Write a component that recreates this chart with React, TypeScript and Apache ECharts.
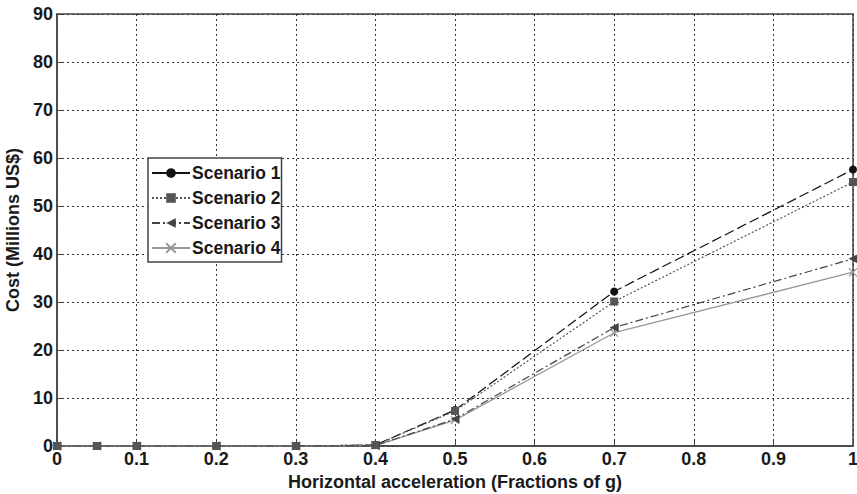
import React, { useEffect, useRef } from "react";
import * as echarts from "echarts";

const xValues = [0, 0.05, 0.1, 0.2, 0.3, 0.4, 0.5, 0.7, 1];
const scenario1 = [0, 0, 0, 0, 0, 0.2, 7.5, 32.2, 57.6];
const scenario2 = [0, 0, 0, 0, 0, 0.2, 7.3, 30.1, 55.0];
const scenario3 = [0, 0, 0, 0, 0, 0.1, 5.6, 24.7, 39.0];
const scenario4 = [0, 0, 0, 0, 0, 0.1, 5.4, 23.6, 36.2];
const seriesNames = ["Scenario 1", "Scenario 2", "Scenario 3", "Scenario 4"];

const FONT = "Liberation Sans, Arial, sans-serif";

const pair = (ys: number[]) => xValues.map((x, i) => [x, ys[i]]);

export default function App() {
  const ref = useRef<HTMLDivElement>(null);
  useEffect(() => {
    if (!ref.current) return;
    const chart = echarts.init(ref.current, undefined, { renderer: "svg" });
    const axisLabel = { color: "#1a1a1a", fontFamily: FONT, fontSize: 18, fontWeight: "bold" as const };
    chart.setOption({
      animation: false,
      backgroundColor: "#fff",
      grid: {
        left: 57,
        top: 14,
        right: 4,
        bottom: 48,
        outerBoundsMode: "none",
        containLabel: false,
        show: true,
        borderColor: "#444",
        borderWidth: 1.5,
        backgroundColor: "transparent",
      },
      xAxis: {
        type: "value",
        min: 0,
        max: 1,
        interval: 0.1,
        name: "Horizontal acceleration (Fractions of g)",
        nameLocation: "middle",
        nameGap: 26,
        nameTextStyle: { color: "#1a1a1a", fontFamily: FONT, fontSize: 18, fontWeight: "bold" },
        axisLine: { show: true, onZero: false, lineStyle: { color: "#444", width: 1.5 } },
        axisTick: { show: true, inside: true, length: 5, lineStyle: { color: "#444" } },
        axisLabel: {
          ...axisLabel,
          margin: 4,
          formatter: (v: number) => (v === 0 ? "0" : v === 1 ? "1" : String(Math.round(v * 10) / 10)),
        },
        splitLine: { show: true, lineStyle: { color: "#333", type: [2, 3], width: 1 } },
      },
      yAxis: {
        type: "value",
        min: 0,
        max: 90,
        interval: 10,
        name: "Cost (Millions US$)",
        nameLocation: "middle",
        nameGap: 28,
        nameTextStyle: { color: "#1a1a1a", fontFamily: FONT, fontSize: 18, fontWeight: "bold" },
        axisLine: { show: true, onZero: false, lineStyle: { color: "#444", width: 1.5 } },
        axisTick: { show: true, inside: true, length: 5, lineStyle: { color: "#444" } },
        axisLabel: { ...axisLabel, margin: 4 },
        splitLine: { show: true, lineStyle: { color: "#333", type: [2, 3], width: 1 } },
      },
      legend: {
        orient: "vertical",
        left: 148,
        top: 158,
        padding: [6, 1, 5, 3],
        itemGap: 7,
        itemWidth: 38,
        itemHeight: 12,
        backgroundColor: "#fff",
        borderColor: "#444",
        borderWidth: 1.5,
        textStyle: { color: "#1a1a1a", fontFamily: FONT, fontSize: 17.5, fontWeight: "bold", padding: [0, 0, 0, -3] },
        data: [
          { name: seriesNames[0], lineStyle: { type: "solid" } },
          { name: seriesNames[1] },
          { name: seriesNames[2] },
          { name: seriesNames[3] },
        ],
      },
      series: [
        {
          name: seriesNames[0],
          type: "line",
          data: pair(scenario1),
          symbol: "circle",
          symbolSize: 8,
          z: 2,
          lineStyle: { color: "#111", width: 1.2, type: [10, 4] },
          itemStyle: { color: "#111" },
        },
        {
          name: seriesNames[1],
          type: "line",
          data: pair(scenario2),
          symbol: "rect",
          symbolSize: 8,
          z: 4,
          lineStyle: { color: "#555", width: 1.2, type: [2, 2] },
          itemStyle: { color: "#555" },
        },
        {
          name: seriesNames[2],
          type: "line",
          data: pair(scenario3),
          symbol: "triangle",
          symbolRotate: 90,
          symbolSize: 9,
          z: 3,
          lineStyle: { color: "#444", width: 1.2, type: [8, 3, 2, 3] },
          itemStyle: { color: "#444" },
        },
        {
          name: seriesNames[3],
          type: "line",
          data: pair(scenario4),
          symbol: "path://M0,0L10,10M10,0L0,10",
          symbolSize: 8,
          z: 2,
          lineStyle: { color: "#999", width: 1.3, type: "solid" },
          itemStyle: { color: "transparent", borderColor: "#999", borderWidth: 1.2 },
        },
      ],
    });
    return () => chart.dispose();
  }, []);
  return (
    <div
      ref={ref}
      style={{ position: "fixed", left: 0, top: 0, width: 857, height: 494, background: "#fff" }}
    />
  );
}
